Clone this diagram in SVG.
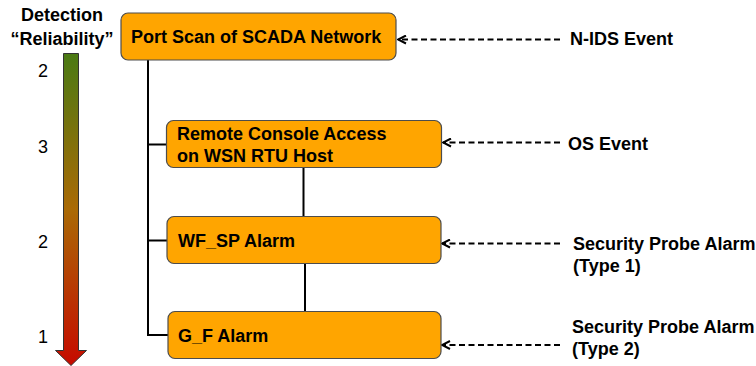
<svg xmlns="http://www.w3.org/2000/svg" width="756" height="366" viewBox="0 0 756 366">
<style>
.box{fill:#ffa500;stroke:#4d4d4d;stroke-width:1.2}
.t{font-family:"Liberation Sans",Arial,Helvetica,sans-serif;font-weight:bold;font-size:18px;fill:#000}
.n{font-family:"Liberation Sans",Arial,Helvetica,sans-serif;font-size:18px;fill:#000}
.edge{fill:none;stroke:#000;stroke-width:2}
.dash{fill:none;stroke:#000;stroke-width:2;stroke-dasharray:6 3.5}
</style>
<defs>
<linearGradient id="gu" gradientUnits="userSpaceOnUse" x1="0" y1="53" x2="0" y2="366">
<stop offset="0" stop-color="#4a7a14"/>
<stop offset="0.5" stop-color="#aa6a05"/>
<stop offset="1" stop-color="#c60a00"/>
</linearGradient>
<marker id="open" viewBox="0 0 10 10" refX="9" refY="5" markerWidth="10" markerHeight="10" markerUnits="userSpaceOnUse" orient="auto">
<path d="M1,1 L9,5 L1,9" fill="none" stroke="#000" stroke-width="2"/>
</marker>
</defs>

<g id="scale">
<text class="t" x="62" y="21" text-anchor="middle">Detection</text>
<text class="t" x="62" y="45" text-anchor="middle">“Reliability”</text>
<path d="M63.5,53.5 H78.5 V350.5 H86.5 L71,365.5 L55.5,350.5 H63.5 Z" fill="url(#gu)" stroke="#333" stroke-width="1"/>
<text class="n" x="43" y="77" text-anchor="middle">2</text>
<text class="n" x="43" y="153" text-anchor="middle">3</text>
<text class="n" x="43" y="247.5" text-anchor="middle">2</text>
<text class="n" x="43" y="343" text-anchor="middle">1</text>
</g>

<g id="connectors">
<path class="edge" d="M148,60 V335 H168"/>
<path class="edge" d="M148,144.5 H166"/>
<path class="edge" d="M148,240.5 H167"/>
<path class="edge" d="M303.5,167 V217"/>
<path class="edge" d="M305,263 V312"/>
<path class="dash" d="M560,39.5 H398" marker-end="url(#open)"/>
<path class="dash" d="M560,142.5 H443" marker-end="url(#open)"/>
<path class="dash" d="M560,243.5 H442" marker-end="url(#open)"/>
<path class="dash" d="M560,345 H442" marker-end="url(#open)"/>
</g>

<g id="node-portscan">
<rect class="box" x="121" y="13" width="275" height="47" rx="7"/>
<text class="t" x="131" y="43">Port Scan of SCADA Network</text>
</g>
<g id="node-remote">
<rect class="box" x="166.5" y="120.5" width="275" height="47" rx="7"/>
<text class="t" x="177" y="140">Remote Console Access</text>
<text class="t" x="177" y="162">on WSN RTU Host</text>
</g>
<g id="node-wfsp">
<rect class="box" x="167" y="216.5" width="274" height="47" rx="7"/>
<text class="t" x="178" y="247">WF_SP Alarm</text>
</g>
<g id="node-gf">
<rect class="box" x="168" y="311.5" width="273" height="47" rx="7"/>
<text class="t" x="178" y="342">G_F Alarm</text>
</g>

<g id="labels">
<text class="t" x="570" y="45">N-IDS Event</text>
<text class="t" x="568" y="150">OS Event</text>
<text class="t" x="573" y="250">Security Probe Alarm</text>
<text class="t" x="573" y="272">(Type 1)</text>
<text class="t" x="572" y="333">Security Probe Alarm</text>
<text class="t" x="572" y="355">(Type 2)</text>
</g>
</svg>
